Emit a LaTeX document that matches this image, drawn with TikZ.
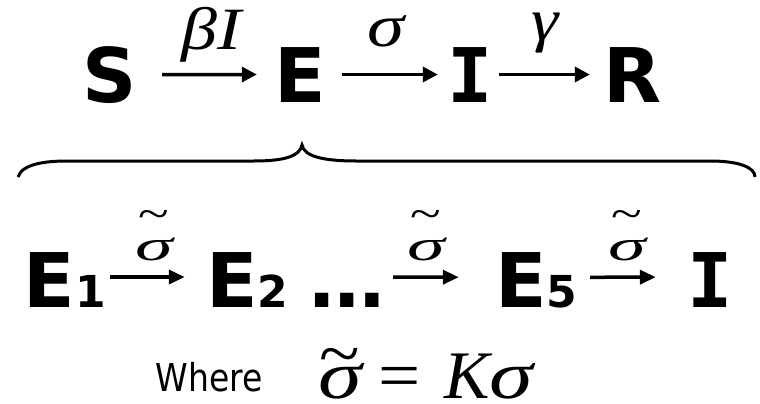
\documentclass[tikz,border=0pt]{standalone}
\usepackage{fontspec}
\usepackage{graphicx}
\usetikzlibrary{arrows.meta}
\newfontfamily\dvs{DejaVu Sans}
\newfontfamily\dvsm{DejaVu Sans Mono}
\newfontfamily\tms{Liberation Serif}
\newcommand\BigB{\dvs\bfseries\fontsize{75.4}{80}\selectfont}
\newcommand\BigM{\dvsm\bfseries\fontsize{75.4}{80}\selectfont}
\newcommand\SubB{\dvs\bfseries\fontsize{44}{48}\selectfont}
% #1 raise of tilde, #2 x-scale of sigma, #3 x-scale of tilde
\newcommand\tsig[3]{\ooalign{\scalebox{#2}[1]{σ}\cr\hidewidth\raisebox{#1}{\scalebox{#3}[1]{\upshape\char"7E}}\hidewidth\cr}}
\begin{document}
\begin{tikzpicture}[x=1pt,y=-1pt,
  glyph/.style={inner sep=0pt, anchor=base, minimum width=#1, font=\BigB},
  arr/.style={line width=3.5pt, -{Triangle[length=15pt,width=15pt]}},
  arrs/.style={line width=3.5pt, -{Triangle[length=16pt,width=14pt]}},
  lab/.style={inner sep=0pt, anchor=base, font=\tms\itshape\fontsize{60}{60}\selectfont},
  slab/.style={inner sep=0pt, anchor=base, font=\tms\itshape\fontsize{43.6}{44}\selectfont},
  eq/.style={inner sep=0pt, anchor=base, font=\tms\fontsize{68}{68}\selectfont}]
\useasboundingbox (0,0) rectangle (760,404);
% top row
\node[glyph=44pt] (S) at (110,102) {\makebox[0pt]{S}};
\node[glyph=36pt] (E) at (300,102) {\makebox[0pt]{E}};
\node[glyph=30pt, font=\BigM] (I) at (470,102) {\makebox[0pt]{I}};
\node[glyph=50pt] (R) at (633,102) {\makebox[0pt]{R}};
\draw[arr, shorten <=30pt, shorten >=25pt] (S.east) -- (E.west);
\draw[arr, shorten <=24pt, shorten >=17pt] (E.east) -- (I.west);
\draw[arr, shorten <=14pt, shorten >=18pt] (I.east) -- (R.west);
\node[lab] (l1) at (211.5,50) {\scalebox{1.2}[1]{βI}};
\node[lab] (l2) at (385.5,47) {\scalebox{1.25}[1]{σ}};
\node[lab] (l3) at (545.5,40.5) {\scalebox{1.15}[1]{γ}};
% brace
\draw[line width=3pt] (18,177) .. controls (22,164) and (45,161) .. (67,161) -- (254,161)
  .. controls (285,161) and (300,156) .. (302,145)
  .. controls (304,156) and (322,161) .. (356,161) -- (710,161)
  .. controls (738,161) and (755,167) .. (755,177);
% bottom row
\node[glyph=74pt] (E1) at (65,307) {\makebox[0pt]{E{\SubB 1}}};
\node[glyph=75pt] (E2) at (247.5,307) {\makebox[0pt]{E{\SubB 2}}};
\node[glyph=61pt] (dots) at (347.5,307) {\makebox[0pt]{\vphantom{E}…}};
\node[glyph=73pt] (E5) at (536.5,307) {\makebox[0pt]{E{\SubB 5}}};
\node[glyph=30pt, font=\BigM] (I2) at (710,307) {\makebox[0pt]{I}};
\draw[arrs, shorten <=8pt, shorten >=25pt] ([yshift=2.5pt]E1.east) -- ([yshift=2.5pt]E2.west);
\draw[arrs, shorten <=15pt, shorten >=41pt] ([yshift=2.5pt]dots.east) -- ([yshift=2.5pt]E5.west);
\draw[arrs, shorten <=17pt, shorten >=39pt] ([yshift=2.5pt]E5.east) -- ([yshift=2.5pt]I2.west);
\node[slab] (m1) at (154,260) {\tsig{0.72em}{1.75}{1.3}};
\node[slab] (m2) at (426,260) {\tsig{0.72em}{1.75}{1.3}};
\node[slab] (m3) at (627,260) {\tsig{0.72em}{1.75}{1.3}};
% equation
\node[inner sep=0pt, anchor=base, font=\dvs\fontsize{38.4}{40}\selectfont] (where) at (209.5,391) {\scalebox{0.86}[1]{Where}};
\node[eq] (eqs) at (340,398) {\itshape\tsig{0.32em}{1.3}{1.1}};
\node[eq] (eqe) at (400,398) {\scalebox{1.1}[1]{=}};
\node[eq] (eqk) at (489,398) {\itshape K\scalebox{1.3}[1]{σ}};
\end{tikzpicture}
\end{document}
